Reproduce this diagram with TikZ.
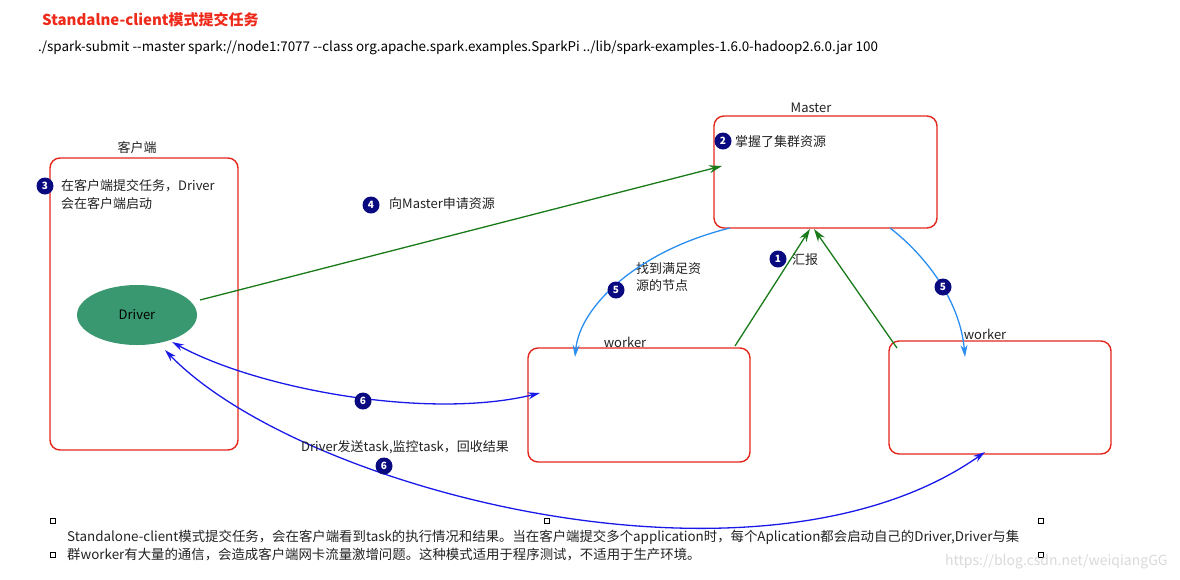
\documentclass[tikz,border=0pt]{standalone}
\usepackage{fontspec}
\setmainfont{Noto Sans CJK SC}
\usetikzlibrary{arrows.meta,calc,shapes.geometric}
\definecolor{boxred}{HTML}{E2261B}
\definecolor{grn}{HTML}{187A18}
\definecolor{lblue}{HTML}{2A8EF0}
\definecolor{dblue}{HTML}{1A1AE8}
\definecolor{navy}{HTML}{0A0A80}
\definecolor{drvfill}{HTML}{3A9870}
\definecolor{titlered}{HTML}{EE2A1A}
\definecolor{txt}{HTML}{222222}
\tikzset{
  x=1pt,y=-1pt,
  rbox/.style={draw=boxred,line width=1.4pt,rounded corners=10pt},
  badge/.style={circle,fill=navy,text=white,inner sep=0pt,minimum size=17pt,font=\fontsize{10}{10}\selectfont\bfseries},
  lbl/.style={font=\fontsize{13}{17}\selectfont,text=txt,inner sep=0pt},
  garrow/.style={draw=grn,line width=1.3pt,-{Stealth[length=13pt,width=8pt]}},
  lbarrow/.style={draw=lblue,line width=1.3pt,-{Stealth[length=12pt,width=7pt]}},
  dbarrow/.style={draw=dblue,line width=1.3pt,{Stealth[length=12pt,width=7pt]}-{Stealth[length=12pt,width=7pt]}},
  sq/.style={draw=black,line width=0.6pt,minimum size=5pt,inner sep=0pt}
}
\begin{document}
\begin{tikzpicture}
\useasboundingbox (0,0) rectangle (1180,579);
% title and command
\node[anchor=west,inner sep=0pt,text=titlered,font=\fontsize{15}{18}\selectfont\bfseries] (title) at (42,20) {Standalne-client模式提交任务};
\node[anchor=west,inner sep=0pt,text=black,font=\fontsize{13.4}{16}\selectfont] (cmd) at (38,48) {./spark-submit -{}-master spark://node1:7077 -{}-class org.apache.spark.examples.SparkPi ../lib/spark-examples-1.6.0-hadoop2.6.0.jar 100};
% boxes
\draw[rbox] (50,158) rectangle (238,450);
\node[lbl] (clientlbl) at (137,148) {客户端};
\draw[rbox] (714,116) rectangle (937,228);
\node[lbl] (masterlbl) at (811,108) {Master};
\draw[rbox] (528,348) rectangle (750,462);
\node[lbl] (w1lbl) at (625,342) {worker};
\draw[rbox] (889,341) rectangle (1111,454);
\node[lbl] (w2lbl) at (985,334) {worker};
% nodes
\node[ellipse,fill=drvfill,minimum width=120pt,minimum height=60pt,inner sep=0pt,font=\fontsize{13}{15}\selectfont,text=black] (driver) at (137,315) {Driver};
\node[badge] (b3) at (45,186) {3};
\node[lbl,anchor=west,align=left,font=\fontsize{13}{18}\selectfont] (t3) at (61,195) {在客户端提交任务，Driver\\会在客户端启动};
\node[badge] (b2) at (723,141) {2};
\node[lbl,anchor=west] (t2) at (735,142) {掌握了集群资源};
\node[badge] (b4) at (371,205) {4};
\node[lbl,anchor=west] (t4) at (389,204) {向Master申请资源};
\node[badge] (b1) at (778,259) {1};
\node[lbl,anchor=west] (t1) at (792,260) {汇报};
\node[lbl,anchor=west,align=left] (t5) at (636,277) {找到满足资\\源的节点};
% coordinates
\coordinate (dA) at (200,300);
\coordinate (mA) at (722,166);
\coordinate (w1top) at (735,346);
\coordinate (w2top) at (897,348);
\coordinate (mB1) at (810,229);
\coordinate (mB2) at (814,229);
\coordinate (mL) at (730,228);
\coordinate (w1in) at (575,357);
\coordinate (mR) at (890,228);
\coordinate (w2in) at (965,357);
\coordinate (d1) at (172,342);
\coordinate (d2) at (165,350);
\coordinate (w1l) at (540,393);
\coordinate (w2b) at (985,452);
% green arrows
\draw[garrow] (dA) -- (mA);
\draw[garrow] (w1top) -- (mB1);
\draw[garrow] (w2top) -- (mB2);
% light blue
\draw[lbarrow] (mL) .. controls (640,250) and (580,305) .. (w1in);
\draw[lbarrow] (mR) .. controls (925,255) and (960,300) .. (w2in);
% dark blue
\draw[dbarrow] (d1) .. controls (260,390) and (430,420) .. (w1l);
\draw[dbarrow] (d2) .. controls (300,490) and (760,610) .. (w2b);
\node[badge] (b5a) at (616,290) {5};
\node[badge] (b5b) at (943,287) {5};
\node[badge] (b6a) at (363,401) {6};
\node[badge] (b6b) at (384,466) {6};
\node[lbl,anchor=west] (t6) at (301,447) {Driver发送task,监控task，回收结果};
% bottom text
\node[sq] (s1) at (53,521) {};
\node[sq] (s2) at (547,521) {};
\node[sq] (s3) at (1041,521) {};
\node[sq] (s4) at (53,555) {};
\node[sq] (s5) at (1041,555) {};
\node[lbl,anchor=west,font=\fontsize{13.4}{16}\selectfont] (bt1) at (67,537) {Standalone-client模式提交任务，会在客户端看到task的执行情况和结果。当在客户端提交多个application时，每个Aplication都会启动自己的Driver,Driver与集};
\node[lbl,anchor=west,font=\fontsize{13.4}{16}\selectfont] (bt2) at (67,555) {群worker有大量的通信，会造成客户端网卡流量激增问题。这种模式适用于程序测试，不适用于生产环境。};
\node[anchor=west,inner sep=0pt,text=black!15,font=\fontsize{14}{16}\selectfont] (wm) at (945,562) {https://blog.csdn.net/weiqiangGG};
\end{tikzpicture}
\end{document}
